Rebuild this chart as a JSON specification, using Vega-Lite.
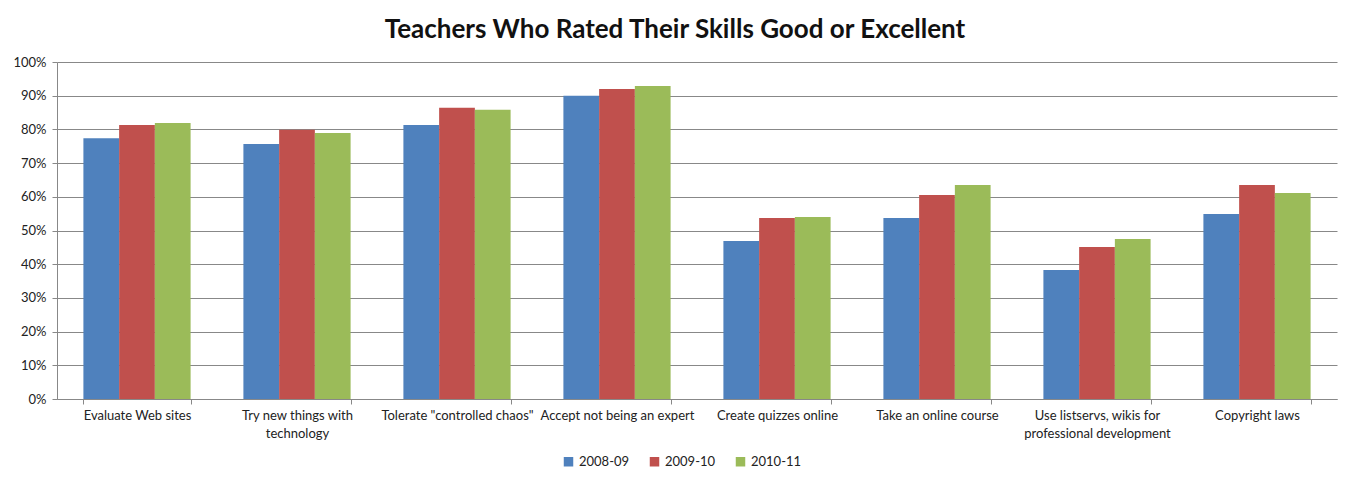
{
  "$schema": "https://vega.github.io/schema/vega-lite/v6.json",
  "autosize": "none",
  "width": 1280,
  "height": 337,
  "padding": {"left": 57, "top": 62, "right": 10, "bottom": 78},
  "background": "white",
  "title": {
    "text": "Teachers Who Rated Their Skills Good or Excellent",
    "font": "Lato",
    "fontSize": 26,
    "fontWeight": "bold",
    "color": "#111111",
    "anchor": "middle",
    "dx": -22,
    "offset": 13
  },
  "data": {
    "values": [
      {"skill": "Evaluate Web sites", "year": "2008-09", "value": 0.774},
      {"skill": "Evaluate Web sites", "year": "2009-10", "value": 0.813},
      {"skill": "Evaluate Web sites", "year": "2010-11", "value": 0.819},
      {"skill": "Try new things with technology", "year": "2008-09", "value": 0.757},
      {"skill": "Try new things with technology", "year": "2009-10", "value": 0.799},
      {"skill": "Try new things with technology", "year": "2010-11", "value": 0.789},
      {"skill": "Tolerate \"controlled chaos\"", "year": "2008-09", "value": 0.813},
      {"skill": "Tolerate \"controlled chaos\"", "year": "2009-10", "value": 0.864},
      {"skill": "Tolerate \"controlled chaos\"", "year": "2010-11", "value": 0.858},
      {"skill": "Accept not being an expert", "year": "2008-09", "value": 0.900},
      {"skill": "Accept not being an expert", "year": "2009-10", "value": 0.920},
      {"skill": "Accept not being an expert", "year": "2010-11", "value": 0.929},
      {"skill": "Create quizzes online", "year": "2008-09", "value": 0.469},
      {"skill": "Create quizzes online", "year": "2009-10", "value": 0.537},
      {"skill": "Create quizzes online", "year": "2010-11", "value": 0.540},
      {"skill": "Take an online course", "year": "2008-09", "value": 0.537},
      {"skill": "Take an online course", "year": "2009-10", "value": 0.605},
      {"skill": "Take an online course", "year": "2010-11", "value": 0.635},
      {"skill": "Use listservs, wikis for professional development", "year": "2008-09", "value": 0.383},
      {"skill": "Use listservs, wikis for professional development", "year": "2009-10", "value": 0.451},
      {"skill": "Use listservs, wikis for professional development", "year": "2010-11", "value": 0.475},
      {"skill": "Copyright laws", "year": "2008-09", "value": 0.549},
      {"skill": "Copyright laws", "year": "2009-10", "value": 0.635},
      {"skill": "Copyright laws", "year": "2010-11", "value": 0.611}
    ]
  },
  "mark": {"type": "bar"},
  "encoding": {
    "x": {
      "field": "skill",
      "type": "nominal",
      "sort": null,
      "title": null,
      "scale": {"paddingInner": 0.33, "paddingOuter": 0.165},
      "axis": {
        "labelAngle": 0,
        "tickBand": "extent",
        "labelFont": "Lato",
        "labelFontSize": 13,
        "labelColor": "#222222",
        "labelPadding": 5,
        "labelLineHeight": 18,
        "labelLimit": 0,
        "domainColor": "#888888",
        "tickColor": "#888888",
        "tickSize": 5,
        "labelExpr": "datum.label == 'Try new things with technology' ? ['Try new things with', 'technology'] : datum.label == 'Use listservs, wikis for professional development' ? ['Use listservs, wikis for', 'professional development'] : datum.label"
      }
    },
    "xOffset": {"field": "year", "type": "nominal", "scale": {"paddingInner": 0, "paddingOuter": 0}},
    "y": {
      "field": "value",
      "type": "quantitative",
      "title": null,
      "scale": {"domain": [0, 1], "nice": false},
      "axis": {
        "format": ".0%",
        "values": [0, 0.1, 0.2, 0.3, 0.4, 0.5, 0.6, 0.7, 0.8, 0.9, 1.0],
        "labelFont": "Lato",
        "labelFontSize": 13,
        "labelColor": "#222222",
        "labelPadding": 6,
        "domainColor": "#888888",
        "tickColor": "#888888",
        "tickSize": 5,
        "gridColor": "#888888",
        "gridWidth": 1
      }
    },
    "color": {
      "field": "year",
      "type": "nominal",
      "title": null,
      "scale": {"domain": ["2008-09", "2009-10", "2010-11"], "range": ["#4F81BD", "#C0504D", "#9BBB59"]},
      "legend": {
        "orient": "none",
        "direction": "horizontal",
        "legendX": 505,
        "legendY": 393,
        "symbolType": "square",
        "symbolSize": 90,
        "symbolStrokeWidth": 0,
        "symbolOpacity": 1,
        "labelFont": "Lato",
        "labelFontSize": 13,
        "labelColor": "#222222",
        "columnPadding": 18,
        "labelOffset": 4
      }
    }
  },
  "config": {
    "view": {"stroke": null},
    "axis": {"grid": true},
    "axisX": {"grid": false}
  }
}
